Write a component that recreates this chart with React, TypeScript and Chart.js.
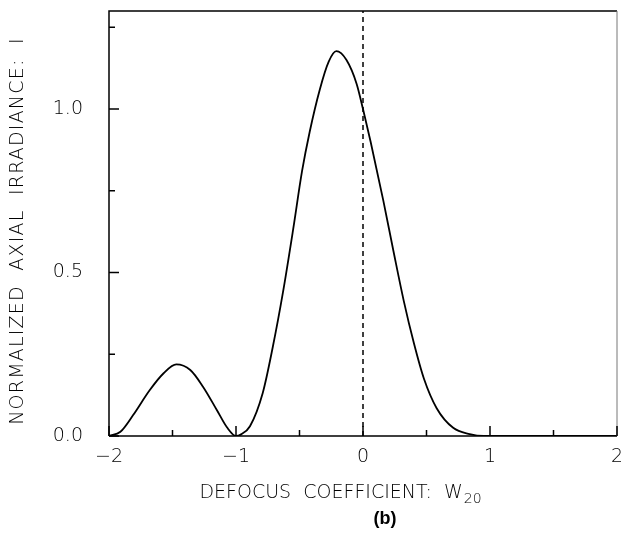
import React, { useEffect, useRef } from "react";
import { Chart, registerables } from "chart.js";

Chart.register(...registerables);

const defocus = [
  -2, -1.91, -1.81, -1.68, -1.57, -1.47, -1.36, -1.26, -1.15, -1.07, -1.0,
  -0.96, -0.89, -0.79, -0.71, -0.63, -0.55, -0.48, -0.42, -0.34, -0.27, -0.21,
  -0.13, -0.05, 0, 0.06, 0.16, 0.24, 0.32, 0.4, 0.48, 0.58, 0.71, 0.84, 0.95,
  1.2, 1.6, 2.0,
];
const irradiance = [
  0, 0.013, 0.064, 0.14, 0.192, 0.219, 0.202, 0.151, 0.079, 0.026, 0, 0.005,
  0.03, 0.131, 0.273, 0.44, 0.632, 0.81, 0.93, 1.06, 1.145, 1.177, 1.15,
  1.077, 1.0, 0.9, 0.72, 0.565, 0.415, 0.285, 0.175, 0.085, 0.025, 0.006, 0,
  0, 0, 0,
];
const focusLineX = [0, 0];
const focusLineY = [0, 1.3];

const xMajorTicks = [-2, -1, 0, 1, 2];
const xMinorTicks = [-1.5, -0.5, 0.5, 1.5];
const yMajorTicks = [0, 0.5, 1.0];
const yMinorTicks = [0.25, 0.75, 1.25];

const xTitle = "DEFOCUS  COEFFICIENT:  W";
const xTitleSub = "20";
const yTitle = "NORMALIZED  AXIAL  IRRADIANCE:  I";
const panelLabel = "(b)";

const FONT = "'DejaVu Sans', sans-serif";

export default function App() {
  const ref = useRef<HTMLCanvasElement | null>(null);

  useEffect(() => {
    if (!ref.current) return;
    const decor = {
      id: "decor",
      afterDraw(chart: any) {
        const ctx = chart.ctx;
        const a = chart.chartArea;
        const xs = chart.scales.x;
        const ys = chart.scales.y;
        ctx.save();
        ctx.strokeStyle = "#000";
        ctx.lineWidth = 1.5;
        ctx.beginPath();
        ctx.moveTo(a.left, a.bottom);
        ctx.lineTo(a.left, a.top);
        ctx.lineTo(a.right, a.top);
        ctx.moveTo(a.left, a.bottom);
        ctx.lineTo(a.right, a.bottom);
        ctx.stroke();
        ctx.strokeStyle = "#777";
        ctx.lineWidth = 1;
        ctx.beginPath();
        ctx.moveTo(a.right, a.top);
        ctx.lineTo(a.right, a.bottom);
        ctx.stroke();
        ctx.strokeStyle = "#000";
        ctx.lineWidth = 1.5;
        ctx.beginPath();
        for (const v of xMajorTicks) {
          const p = xs.getPixelForValue(v);
          ctx.moveTo(p, a.bottom);
          ctx.lineTo(p, a.bottom - 10);
        }
        for (const v of xMinorTicks) {
          const p = xs.getPixelForValue(v);
          ctx.moveTo(p, a.bottom);
          ctx.lineTo(p, a.bottom - 6);
        }
        for (const v of yMajorTicks) {
          const p = ys.getPixelForValue(v);
          ctx.moveTo(a.left, p);
          ctx.lineTo(a.left + 10, p);
        }
        for (const v of yMinorTicks) {
          const p = ys.getPixelForValue(v);
          ctx.moveTo(a.left, p);
          ctx.lineTo(a.left + 6, p);
        }
        ctx.stroke();
        ctx.fillStyle = "#000";
        ctx.textBaseline = "alphabetic";
        ctx.font = `200 19px ${FONT}`;
        const mainW = ctx.measureText(xTitle).width;
        ctx.font = `200 14px ${FONT}`;
        const subW = ctx.measureText(xTitleSub).width;
        const total = mainW + subW;
        const sx = 340 - total / 2;
        ctx.font = `200 19px ${FONT}`;
        ctx.textAlign = "left";
        ctx.fillText(xTitle, sx, 498);
        ctx.font = `200 14px ${FONT}`;
        ctx.fillText(xTitleSub, sx + mainW + 1, 503);
        ctx.font = `bold 18px 'Liberation Sans', Arial, sans-serif`;
        ctx.textAlign = "center";
        ctx.fillText(panelLabel, 385, 524);
        ctx.translate(23, 231);
        ctx.rotate(-Math.PI / 2);
        ctx.font = `200 19px ${FONT}`;
        (ctx as any).letterSpacing = "1.2px";
        ctx.textAlign = "center";
        ctx.fillText(yTitle, 0, 0);
        ctx.restore();
      },
    };

    const chart = new Chart(ref.current, {
      type: "line",
      data: {
        datasets: [
          {
            data: defocus.map((x, i) => ({ x, y: irradiance[i] })),
            borderColor: "#000",
            borderWidth: 1.8,
            pointRadius: 0,
            cubicInterpolationMode: "monotone",
            fill: false,
          },
          {
            data: focusLineX.map((x, i) => ({ x, y: focusLineY[i] })),
            borderColor: "#000",
            borderWidth: 1.5,
            borderDash: [5, 4],
            pointRadius: 0,
            fill: false,
          },
        ],
      },
      plugins: [decor],
      options: {
        animation: false,
        responsive: false,
        layout: { padding: { top: 11, right: 4, left: 0, bottom: 0 } },
        plugins: { legend: { display: false }, tooltip: { enabled: false } },
        scales: {
          x: {
            type: "linear",
            min: -2,
            max: 2,
            border: { display: false },
            grid: { display: false, drawTicks: false },
            afterFit: (s: any) => {
              s.height = 105;
              s.paddingLeft = 0;
              s.paddingRight = 0;
            },
            ticks: {
              stepSize: 1,
              includeBounds: false,
              padding: 10,
              color: "#000",
              font: { family: FONT, size: 19, weight: "200" as any },
              callback: (v: any) => (Number(v) < 0 ? "\u2212" + Math.abs(Number(v)) : String(v)),
            },
          },
          y: {
            type: "linear",
            min: 0,
            max: 1.3,
            border: { display: false },
            grid: { display: false, drawTicks: false },
            afterFit: (s: any) => {
              s.width = 109;
              s.paddingTop = 0;
              s.paddingBottom = 0;
            },
            ticks: {
              stepSize: 0.5,
              includeBounds: false,
              padding: 26,
              color: "#000",
              font: { family: FONT, size: 19, weight: "200" as any },
              callback: (v: any) => Number(v).toFixed(1),
            },
          },
        },
      },
    });
    return () => chart.destroy();
  }, []);

  return (
    <div style={{ position: "fixed", left: 0, top: 0, width: 621, height: 541, background: "#fff" }}>
      <canvas ref={ref} width={621} height={541} />
    </div>
  );
}
